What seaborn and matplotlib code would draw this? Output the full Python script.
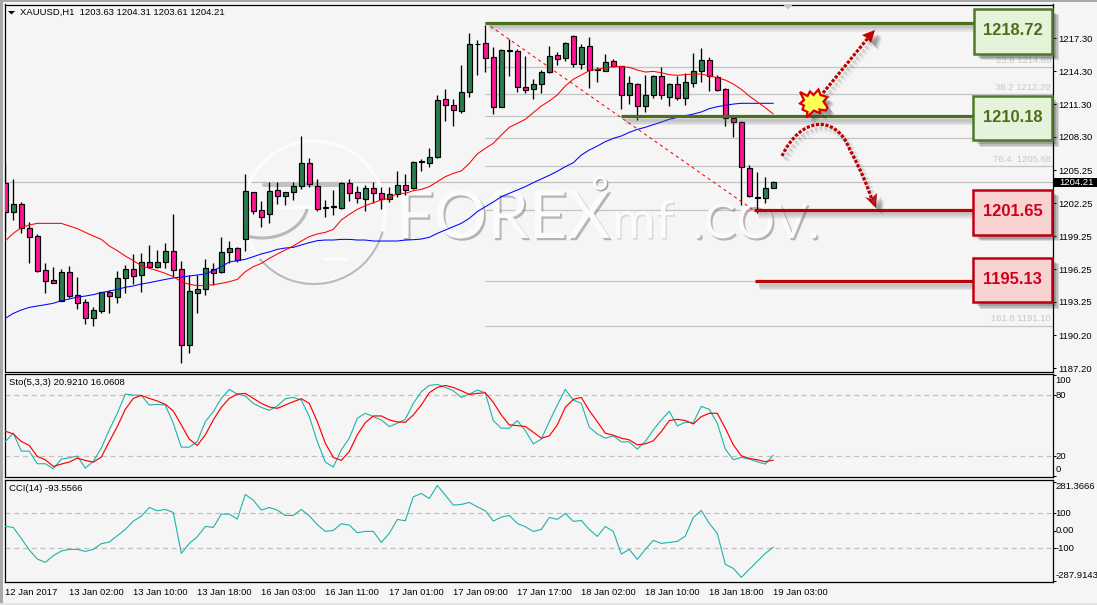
import numpy as np
import matplotlib
matplotlib.use("Agg")
import matplotlib.pyplot as plt
import matplotlib.patheffects as pe
from matplotlib.patches import Arc, Circle, Polygon, Rectangle
from matplotlib.path import Path
import seaborn as sns

# ---------------------------------------------------------------- hourly bars
opens = [1204.07,1201.49,1202.15,1199.97,1199.27,1196.14,1195.22,1193.37,1195.95,1193.86,
         1193.22,1191.82,1192.46,1194.19,1193.73,1195.47,1196.23,1195.68,1196.87,1196.47,
         1196.87,1197.87,1196.23,1189.30,1194.10,1194.40,1196.23,1195.95,1197.78,1198.14,
         1198.96,1203.25,1201.61,1201.24,1203.43,1202.95,1203.25,1203.80,1205.89,1203.86,
         1201.88,1201.88,1201.85,1204.07,1203.25,1202.67,1203.61,1203.16,1202.67,1203.07,
         1203.89,1203.61,1206.02,1205.96,1206.44,1211.73,1211.24,1210.70,1212.37,1216.75,
         1216.84,1215.56,1211.00,1216.20,1216.11,1212.83,1212.64,1213.10,1214.19,1215.74,
         1215.47,1217.48,1214.92,1216.56,1214.41,1214.35,1215.20,1214.74,1212.10,1213.10,
         1211.09,1212.10,1213.83,1211.97,1213.10,1211.82,1213.25,1214.28,1215.29,1213.74,
         1212.64,1209.99,1209.63,1205.44,1202.79,1202.76,1203.63]
highs = [1205.89,1204.47,1202.37,1200.51,1199.45,1196.77,1196.47,1196.29,1196.53,1195.53,
         1193.52,1192.76,1194.19,1194.34,1196.07,1196.62,1197.63,1197.75,1198.45,1197.99,
         1198.66,1201.27,1196.99,1195.68,1195.71,1197.14,1196.77,1199.15,1198.81,1198.23,
         1204.92,1203.25,1202.46,1204.16,1204.16,1203.25,1204.16,1208.39,1206.35,1204.43,
         1202.55,1203.46,1204.22,1204.47,1203.83,1203.92,1204.16,1203.71,1203.77,1205.20,
         1204.92,1206.14,1206.26,1207.26,1212.13,1212.67,1211.73,1214.86,1217.78,1217.14,
         1218.51,1216.53,1216.29,1217.20,1216.32,1215.68,1213.56,1214.41,1216.60,1216.08,
         1216.99,1217.60,1216.78,1217.42,1214.71,1215.87,1215.38,1214.77,1213.86,1213.19,
         1213.95,1213.92,1214.65,1213.19,1213.86,1214.16,1215.99,1216.38,1215.56,1213.92,
         1212.73,1209.99,1209.72,1205.71,1205.07,1204.68,1204.31]
lows = [1199.66,1200.73,1199.51,1196.83,1196.01,1194.10,1194.95,1193.37,1193.58,1192.64,
        1191.24,1191.09,1192.27,1192.27,1193.19,1194.10,1194.89,1194.16,1196.38,1196.38,
        1196.38,1195.56,1187.72,1188.63,1192.27,1193.92,1194.80,1195.92,1196.83,1196.93,
        1197.93,1201.30,1200.12,1200.48,1202.19,1202.12,1202.55,1203.52,1203.77,1201.58,
        1201.03,1201.18,1201.70,1202.46,1202.25,1201.58,1202.31,1201.70,1202.40,1202.85,
        1203.01,1203.52,1205.23,1205.59,1206.41,1209.79,1209.33,1210.52,1211.97,1213.95,
        1214.25,1210.42,1211.00,1213.86,1212.43,1212.34,1211.76,1212.34,1214.16,1214.86,
        1215.26,1214.65,1214.47,1212.79,1213.34,1214.32,1214.71,1210.88,1211.31,1209.85,
        1210.58,1211.88,1211.79,1211.12,1211.67,1211.24,1212.89,1213.31,1212.52,1212.46,
        1209.30,1208.33,1202.12,1202.82,1201.33,1202.31,1203.61]
closes = [1201.49,1202.15,1199.97,1199.21,1196.11,1195.19,1195.01,1195.95,1193.82,1193.13,
          1191.82,1192.49,1194.13,1193.76,1195.41,1196.23,1195.59,1196.87,1196.44,1196.87,
          1197.87,1196.20,1189.30,1194.22,1194.40,1196.32,1195.92,1197.78,1198.14,1197.08,
          1203.34,1201.58,1201.03,1203.34,1202.95,1203.25,1203.80,1205.89,1203.98,1201.76,
          1201.79,1201.97,1204.07,1203.22,1202.70,1203.61,1203.16,1202.64,1203.07,1203.89,
          1203.46,1205.99,1206.08,1206.44,1211.64,1211.24,1210.73,1212.37,1216.75,1216.81,
          1215.47,1211.00,1216.20,1216.11,1212.89,1212.61,1213.10,1214.22,1215.65,1215.44,
          1216.87,1214.92,1216.47,1214.41,1214.47,1215.10,1214.74,1212.10,1213.19,1211.12,
          1212.10,1213.83,1212.10,1213.10,1211.82,1213.28,1214.28,1215.29,1213.83,1212.55,
          1209.99,1209.63,1205.53,1202.88,1202.70,1203.61,1204.21]

# ---------------------------------------------------------------- moving averages
ma_fast = [1198.84,1199.51,1200.03,1200.27,1200.42,1200.42,1200.42,1200.42,1200.18,1199.94,
           1199.60,1199.27,1198.96,1198.36,1197.93,1197.44,1197.02,1196.56,1196.32,1196.11,
           1195.86,1195.56,1195.10,1194.86,1194.74,1194.74,1194.83,1194.95,1195.10,1195.31,
           1196.01,1196.47,1196.77,1197.23,1197.63,1197.99,1198.36,1198.81,1199.21,1199.45,
           1199.60,1199.87,1200.73,1201.24,1201.70,1202.03,1202.31,1202.55,1202.70,1203.16,
           1203.16,1203.40,1203.52,1203.77,1204.22,1204.68,1204.98,1205.20,1205.89,1206.75,
           1207.26,1207.72,1208.48,1209.18,1209.54,1209.91,1210.52,1211.12,1211.58,1212.13,
           1212.95,1213.56,1213.95,1214.35,1214.47,1214.59,1214.71,1214.71,1214.65,1214.41,
           1214.22,1214.28,1214.16,1213.98,1213.92,1213.98,1214.04,1214.04,1213.86,1213.71,
           1213.49,1213.13,1212.64,1212.03,1211.51,1210.97,1210.39]
ma_slow = [1191.76,1192.21,1192.52,1192.76,1192.88,1193.00,1193.13,1193.37,1193.52,1193.70,
           1193.79,1193.92,1194.10,1194.25,1194.40,1194.59,1194.71,1194.89,1195.01,1195.16,
           1195.31,1195.44,1195.53,1195.62,1195.71,1195.80,1196.11,1196.47,1196.90,1197.02,
           1197.14,1197.38,1197.63,1197.81,1198.05,1198.17,1198.23,1198.45,1198.66,1198.84,
           1198.90,1198.90,1198.96,1198.96,1198.90,1198.90,1198.81,1198.81,1198.81,1198.81,
           1198.90,1198.93,1198.99,1199.15,1199.51,1199.81,1200.12,1200.42,1200.88,1201.49,
           1201.94,1202.37,1202.85,1203.16,1203.46,1203.77,1204.13,1204.47,1204.80,1205.17,
           1205.59,1205.95,1206.65,1207.11,1207.47,1207.87,1208.17,1208.39,1208.72,1208.99,
           1209.18,1209.42,1209.66,1209.91,1210.09,1210.24,1210.39,1210.58,1210.88,1211.06,
           1211.18,1211.30,1211.37,1211.37,1211.37,1211.37,1211.37]

# ---------------------------------------------------------------- oscillators
sto_main = [34.42,42.62,24.91,24.91,12.45,12.45,7.53,17.04,18.36,20.00,8.19,14.75,27.86,45.90,62.29,
            81.31,80.33,80.00,70.49,71.15,70.49,52.46,28.85,28.85,34.42,54.10,63.93,77.05,85.90,81.31,
            79.34,72.13,68.19,65.24,69.51,76.72,78.03,75.41,59.02,34.42,14.09,9.17,26.22,37.70,57.37,
            62.29,59.02,55.74,49.18,52.46,56.39,72.13,83.61,89.84,90.82,87.87,84.59,78.03,81.31,85.25,
            82.62,55.08,47.54,47.54,55.08,45.24,32.13,36.72,54.10,70.49,85.90,75.41,72.13,48.52,41.96,
            37.70,40.00,34.09,34.09,26.88,34.42,45.90,55.74,64.26,49.83,53.44,53.11,69.18,66.23,52.46,
            26.88,16.39,18.68,17.04,14.42,12.12,20.92]
sto_signal = [44.59,41.96,34.42,30.49,19.67,16.39,9.83,12.12,14.09,18.03,15.73,14.09,19.01,34.42,49.18,
              66.23,77.05,80.00,77.05,74.43,71.15,64.59,50.82,36.72,30.49,40.98,55.74,68.19,77.05,81.31,
              81.97,77.05,72.13,68.52,67.21,70.49,73.77,76.72,72.13,54.10,32.78,18.68,15.73,24.59,40.98,
              53.11,59.67,59.67,55.74,53.77,53.44,60.65,70.49,82.62,87.87,89.84,87.87,84.59,80.98,81.97,
              82.62,73.11,60.65,50.82,50.16,49.18,43.60,37.70,40.00,50.82,68.19,76.07,78.03,64.92,54.10,
              42.62,40.65,37.70,36.06,31.14,32.13,35.08,44.26,55.08,56.39,55.08,51.80,59.02,62.29,62.29,
              47.54,31.14,20.32,17.70,16.39,14.42,16.06]
cci = [25.6,19.8,-43.0,-109.7,-161.1,-180.2,-142.1,-115.4,-105.9,-105.9,-117.3,-105.9,-73.5,-64.0,-27.8,
       8.4,56.0,84.6,134.1,115.1,122.7,105.6,-128.8,-71.6,-33.5,25.6,19.8,96.0,96.0,67.5,
       208.4,176.0,118.9,134.1,118.9,88.4,88.4,122.7,86.5,35.1,-3.0,2.7,40.8,33.2,-10.6,
       -3.0,-3.0,-65.9,-14.5,65.6,57.9,195.1,214.2,185.6,259.9,204.6,147.5,151.3,162.7,137.9,
       115.1,56.0,78.9,88.4,42.7,23.7,-3.0,8.4,77.0,65.6,99.9,54.1,59.8,8.4,-31.6,
       25.6,-3.0,-132.6,-105.9,-163.0,-105.9,-54.5,-71.6,-65.9,-60.2,-29.7,77.0,117.0,42.7,-14.5,
       -191.6,-214.5,-265.9,-220.2,-174.5,-128.8,-93.56]

# ---------------------------------------------------------------- axis labels and levels
time_labels = ["12 Jan 2017", "13 Jan 02:00", "13 Jan 10:00", "13 Jan 18:00", "16 Jan 03:00",
               "16 Jan 11:00", "17 Jan 01:00", "17 Jan 09:00", "17 Jan 17:00", "18 Jan 02:00",
               "18 Jan 10:00", "18 Jan 18:00", "19 Jan 03:00"]
price_ticks = [1217.30, 1214.30, 1211.30, 1208.30, 1205.25, 1202.25, 1199.25,
               1196.25, 1193.25, 1190.20, 1187.20]
last_price = 1204.21
fib_levels = [1214.69, 1212.20, 1210.18, 1208.17, 1205.68, 1201.65, 1195.13, 1191.10]
fib_captions = {1214.69: "23.6 1214.69", 1212.20: "38.2 1212.20",
                1205.68: "76.4  1205.68", 1191.10: "161.8 1191.10"}
resistance = [1218.72, 1210.18]
support = [1201.65, 1195.13]

# ---------------------------------------------------------------- page set-up
W, H = 1097, 605
BG = "#f5f5f5"
GREEN_LINE, RED_LINE = "#4b6f1d", "#c00000"
TEAL = "#20b2aa"
sns.set_theme(style="white", rc={"axes.facecolor": BG, "figure.facecolor": BG})
plt.rcParams["font.family"] = ["Liberation Sans", "DejaVu Sans"]
UI_SIZE = 6.8

fig = plt.figure(figsize=(W / 100, H / 100), dpi=100)


def panel(top, bottom, left=4.5, right=1052.5):
    return fig.add_axes([left / W, 1 - bottom / H, (right - left) / W, (bottom - top) / H])


ax_price = panel(4.5, 371.5)
ax_sto = panel(373.5, 477.0)
ax_cci = panel(479.5, 582.0)

# Screen-pixel layer used for the hand-drawn annotations.
ov = fig.add_axes([0, 0, 1, 1], zorder=10)
ov.set_xlim(0, W)
ov.set_ylim(H, 0)
ov.axis("off")
ov.patch.set_alpha(0)

xs = np.arange(len(closes))
XLIM = (-0.10, 130.9)


def style_panel(ax):
    ax.set_xlim(*XLIM)
    for s in ax.spines.values():
        s.set_visible(True)
        s.set_color("black")
        s.set_linewidth(0.9)
    ax.yaxis.tick_right()
    ax.tick_params(axis="y", length=2.2, width=0.75, color="black", pad=1.8,
                   labelsize=UI_SIZE, labelcolor="black")
    ax.set_xlabel("")
    ax.set_ylabel("")


def soft_line_shadow(color="#666666"):
    return [pe.SimpleLineShadow(offset=o, shadow_color=color, alpha=a, linewidth=w)
            for o, a, w in [((3.0, -3.6), 0.10, 5.0), ((2.6, -3.0), 0.13, 3.6), ((2.2, -2.4), 0.15, 2.4)]] + [pe.Normal()]


def soft_patch_shadow():
    return [pe.SimplePatchShadow(offset=o, shadow_rgbFace="#333333", alpha=a)
            for o, a in [((5.0, -5.0), 0.14), ((4.0, -4.0), 0.18), ((3.0, -3.0), 0.22)]] + [pe.Normal()]


# ---------------------------------------------------------------- watermark
tw = ov.transData
emboss = [pe.SimplePatchShadow(offset=(1.4, -1.6), shadow_rgbFace="#808080", alpha=0.55), pe.Normal()]
emboss_faint = [pe.SimplePatchShadow(offset=(1.0, -1.2), shadow_rgbFace="#909090", alpha=0.28), pe.Normal()]
for txt, x, y, fs, effect in [("FOREX", 396, 238, 48, emboss), ("mf", 612, 238, 38, emboss_faint),
                              (".COV.", 692, 238, 35, emboss)]:
    ax_price.text(x, y, txt, transform=tw, color="#fbfbfb", fontsize=fs, va="baseline", ha="left",
                  fontfamily=["Lato", "DejaVu Sans"], path_effects=effect, zorder=1.2)
ax_price.add_patch(Circle((600, 183), 5.5, transform=tw, facecolor="none", edgecolor="#fdfdfd", lw=2.2,
                          path_effects=[pe.SimpleLineShadow(offset=(1, -1), shadow_color="#808080", alpha=0.7), pe.Normal()],
                          zorder=1.2))
ax_price.add_patch(Arc((314, 212), 142, 142, theta1=0, theta2=360, transform=tw, color="#fcfcfc", lw=2.4, zorder=1.1))
ax_price.add_patch(Arc((314, 213), 142, 142, theta1=15, theta2=140, transform=tw, color="#bcbcbc", lw=1.6, zorder=1.15))
ax_price.add_patch(Arc((262, 202), 92, 72, theta1=5, theta2=110, transform=tw, color="#b8b8b8", lw=2.2, zorder=1.1))
ax_price.plot([264, 340], [185, 185], transform=tw, color="#b4b4b4", lw=2.8, alpha=0.8, zorder=1.1, scalex=False, scaley=False)
ax_price.plot([270, 312], [207, 207], transform=tw, color="#fcfcfc", lw=2.8, zorder=1.1, scalex=False, scaley=False)
ax_price.plot([325, 346], [259, 259], transform=tw, color="#fcfcfc", lw=3.0, zorder=1.1, scalex=False, scaley=False)

# ---------------------------------------------------------------- price panel
ax_price.axhline(last_price, color="#c0c0c0", lw=0.9, zorder=1)
ax_price.hlines(fib_levels, 60, XLIM[1], color="#c4c4c4", lw=0.9, zorder=1)
for level, caption in fib_captions.items():
    ax_price.annotate(caption, (1051, level), xycoords=("figure pixels", "data"),
                      xytext=(0, 1.5), textcoords="offset points", ha="right", va="bottom",
                      fontsize=UI_SIZE, color="#c8c8c8", zorder=2)

ax_price.vlines(xs, lows, highs, color="black", lw=0.95, zorder=3)
up = np.array(closes) >= np.array(opens)
body_colors = ["#2e7d4f" if u else "#ff1493" for u in up]
body_bottom = np.minimum(opens, closes)
body_height = np.maximum(np.abs(np.array(closes) - np.array(opens)), 0.02)
ax_price.bar(xs, body_height, bottom=body_bottom, width=0.62, color=body_colors,
             edgecolor="black", linewidth=0.85, zorder=4)

sns.lineplot(x=xs, y=ma_slow, ax=ax_price, color="#0000ff", lw=0.75, zorder=5, errorbar=None, legend=False)
sns.lineplot(x=xs, y=ma_fast, ax=ax_price, color="#ff0000", lw=0.75, zorder=5, errorbar=None, legend=False)
ax_price.plot([60, 93.5], [resistance[0], support[0]], color="#ff0000", lw=0.75,
              ls=(0, (3, 3.2)), zorder=5)

for level, start in zip(resistance, [60, 77]):
    ax_price.plot([start, 122], [level, level], color=GREEN_LINE, lw=2.3, solid_capstyle="butt",
                  path_effects=soft_line_shadow(), zorder=6)
for level, start in zip(support, [93.6, 93.7]):
    ax_price.plot([start, 122], [level, level], color=RED_LINE, lw=2.3, solid_capstyle="butt",
                  path_effects=soft_line_shadow(), zorder=6)

style_panel(ax_price)
ax_price.set_ylim(1186.91, 1220.38)
ax_price.set_yticks(price_ticks, [f"{p:.2f}" for p in price_ticks])
ax_price.set_xticks([])

# ---------------------------------------------------------------- stochastic panel
ax_sto.hlines([80, 20], *XLIM, color="#c0c0c0", lw=0.9, ls=(0, (4, 3)), zorder=1)
sns.lineplot(x=xs, y=sto_main, ax=ax_sto, color=TEAL, lw=0.8, errorbar=None, legend=False, zorder=3)
sns.lineplot(x=xs, y=sto_signal, ax=ax_sto, color="#ff0000", lw=0.85, errorbar=None, legend=False, zorder=4)
style_panel(ax_sto)
ax_sto.set_ylim(-0.66, 101.64)
ax_sto.set_yticks([100, 80, 20, 0], [])
ax_sto.set_xticks([])

# ---------------------------------------------------------------- CCI panel
ax_cci.hlines([100, -100], *XLIM, color="#c0c0c0", lw=0.9, ls=(0, (4, 3)), zorder=1)
sns.lineplot(x=xs, y=cci, ax=ax_cci, color=TEAL, lw=0.8, errorbar=None, legend=False, zorder=3)
style_panel(ax_cci)
ax_cci.set_ylim(-292.6, 294.2)
ax_cci.set_yticks([281.37, 100, 0, -100, -287.91], [])
ax_cci.set_xticks(xs[::8], time_labels, ha="left")
ax_cci.tick_params(axis="x", length=2.2, width=0.75, color="black", pad=2.2,
                   labelsize=UI_SIZE, labelcolor="black")

# Oscillator scale captions sit apart from their ticks near the panel edges.
for y, s in [(380.3, "100"), (395.3, "80"), (456.3, "20"), (470.0, "0"),
             (486.3, "281.3666"), (513.3, "100"), (530.3, "0.00"), (548.3, "-100"), (576.0, "-287.9143")]:
    ov.text(1055.5, y, s, fontsize=UI_SIZE, va="center", ha="left", color="black")

# ---------------------------------------------------------------- panel captions
ov.add_patch(Polygon([(8, 11), (15, 11), (11.5, 14.5)], color="black", lw=0))
ov.text(19.5, 12.7, "XAUUSD,H1  1203.63 1204.31 1203.61 1204.21", fontsize=UI_SIZE, va="center", color="black")
ov.text(9, 382.7, "Sto(5,3,3) 20.9210 16.0608", fontsize=UI_SIZE, va="center", color="black")
ov.text(9, 488.7, "CCI(14) -93.5566", fontsize=UI_SIZE, va="center", color="black")
ov.add_patch(Polygon([(783, 4.5), (793, 4.5), (788, 9.5)], color="#c8c8c8", lw=0))

# Last-price flag on the scale.
ov.add_patch(Rectangle((1054, 177.5), 43, 9.5, color="black", lw=0))
ov.text(1059, 182.4, f"{last_price:.2f}", color="white", fontsize=UI_SIZE, va="center", ha="left")

# ---------------------------------------------------------------- level boxes
BOXES = [(974, 8.5, 78, 45, resistance[0], "#e4f3d9", "#4e7a2a", "#4b6f1d"),
         (973, 96, 79, 44, resistance[1], "#e4f3d9", "#4e7a2a", "#4b6f1d"),
         (973, 189.5, 79, 45, support[0], "#f9d2d2", "#c00010", "#d0001a"),
         (973, 257.5, 79, 44.5, support[1], "#f9d2d2", "#c00010", "#d0001a")]
for x, y, w, h, value, fill, edge, ink in BOXES:
    ov.add_patch(Rectangle((x, y), w, h, facecolor=fill, edgecolor=edge, lw=1.8,
                           path_effects=soft_patch_shadow()))
    ov.text(x + w / 2, y + h / 2 - 0.3, f"{value:.2f}", color=ink, fontsize=11.9, fontweight="bold",
            ha="center", va="center")

# ---------------------------------------------------------------- scenario arrows
DOT = (0, (1, 0.5))
arrow_shadow = soft_line_shadow("#888888")
ov.plot([823, 868], [93, 38], color=RED_LINE, lw=2.3, ls=DOT, path_effects=arrow_shadow)
ov.add_patch(Polygon([(875, 30), (862, 35), (867, 38), (871, 43)], color=RED_LINE, lw=0,
                     path_effects=soft_patch_shadow()))

curve = Path([(782, 156), (800, 118), (835, 112), (850, 150), (862, 172), (868, 188), (872, 200)],
             [Path.MOVETO, Path.CURVE4, Path.CURVE4, Path.CURVE4, Path.CURVE4, Path.CURVE4, Path.CURVE4])
curve_xy = curve.to_polygons(closed_only=False)[0]
ov.plot(curve_xy[:, 0], curve_xy[:, 1], color=RED_LINE, lw=2.3, ls=DOT, path_effects=arrow_shadow)
ov.add_patch(Polygon([(876, 208), (865, 197), (871, 199), (877, 193)], color=RED_LINE, lw=0,
                     path_effects=soft_patch_shadow()))
ov.set_xlim(0, W)
ov.set_ylim(H, 0)

# Breakout burst above the 1210.18 level.
burst = [(800, 92), (807.5, 96), (810, 91.5), (813.5, 95), (818.5, 89.5), (820.5, 95), (827.5, 97),
         (823.5, 101.5), (827.5, 107.5), (826, 110.5), (819.5, 109.5), (820.5, 113.5), (814, 110.5),
         (806.5, 117.5), (807.5, 112), (802.5, 109.5), (804, 105.5), (800, 103.5), (804, 100)]
ov.add_patch(Polygon(burst, closed=True, facecolor="#ffff55", edgecolor="#d80000", lw=1.6,
                     joinstyle="miter", path_effects=soft_patch_shadow()))

# ---------------------------------------------------------------- window chrome
ov.add_patch(Rectangle((0, 0), W, 2.2, color="#a8a8a8", lw=0))
ov.add_patch(Rectangle((0, 0), 2.8, H, color="#a8a8a8", lw=0))
ov.add_patch(Rectangle((0, 602.5), W, 2.5, color="#e2e2e2", lw=0))

fig.savefig("out.png", dpi=100, facecolor=BG)
